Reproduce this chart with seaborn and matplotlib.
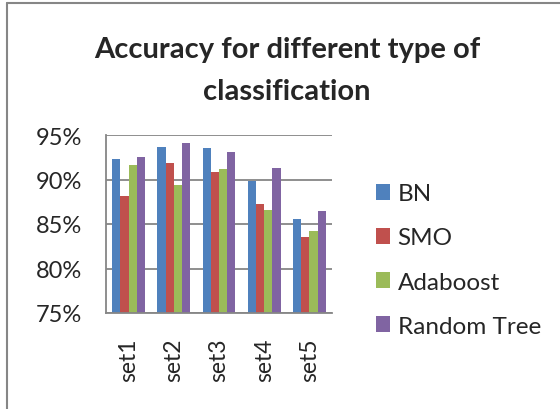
import matplotlib
matplotlib.use("Agg")
import matplotlib.pyplot as plt
import seaborn as sns
import pandas as pd
from matplotlib.lines import Line2D
from matplotlib.ticker import FuncFormatter

sets = ["set1", "set2", "set3", "set4", "set5"]
bn = [92.3, 93.65, 93.5, 89.8, 85.6]
smo = [88.1, 91.8, 90.8, 87.2, 83.5]
adaboost = [91.6, 89.4, 91.2, 86.6, 84.2]
random_tree = [92.5, 94.1, 93.1, 91.3, 86.5]
methods = ["BN", "SMO", "Adaboost", "Random Tree"]
colors = ["#4F81BD", "#C0504D", "#9BBB59", "#8064A2"]

rows = []
for m, vals in zip(methods, [bn, smo, adaboost, random_tree]):
    for s, v in zip(sets, vals):
        rows.append({"set": s, "method": m, "value": v})
df = pd.DataFrame(rows)

sns.set_style("white")
plt.rcParams['font.family'] = ['Lato', 'DejaVu Sans']

W, H = 560, 410
fig = plt.figure(figsize=(5.6, 4.1), dpi=100)
ax = fig.add_axes([106/W, 1-314/H, (332-106)/W, (314-136)/H])
sns.barplot(data=df, x="set", y="value", hue="method", palette=colors,
            width=0.73, ax=ax, saturation=1, legend=True, linewidth=0)
ax.set_ylim(75, 95)
ax.set_yticks([75, 80, 85, 90, 95])
ax.yaxis.set_major_formatter(FuncFormatter(lambda v, p: f"{v:.0f}%"))
ax.grid(axis="y", color="#868686", linewidth=1.3)
ax.set_axisbelow(True)
for s in ["top", "right"]:
    ax.spines[s].set_visible(False)
for s in ["left", "bottom"]:
    ax.spines[s].set_color("#868686")
    ax.spines[s].set_linewidth(1.3)
ax.set_xlabel("")
ax.set_ylabel("")
ax.tick_params(axis="y", labelsize=17, length=0, pad=17)
ax.tick_params(axis="x", labelsize=16.5, length=0, pad=18)
plt.setp(ax.get_xticklabels(), rotation=90)

handles, labels = ax.get_legend_handles_labels()
ax.legend(handles, labels, loc="center left", bbox_to_anchor=(366/W, 1-261/H),
          bbox_transform=fig.transFigure, frameon=False, fontsize=17.5,
          borderaxespad=0, borderpad=0.4,
          handlelength=0.6, handleheight=0.6, handletextpad=0.3, labelspacing=0.95)

fig.text(287/W, 1-58/H, "Accuracy for different type of",
         ha="center", va="baseline", fontsize=21, fontweight="bold")
fig.text(287/W, 1-100/H, "classification",
         ha="center", va="baseline", fontsize=21, fontweight="bold")

fig.add_artist(Line2D([7/W, 1], [1-4/H, 1-4/H], color="#868686", lw=1.5, transform=fig.transFigure))
fig.add_artist(Line2D([7/W, 7/W], [0, 1-4/H], color="#868686", lw=1.5, transform=fig.transFigure))

fig.savefig("out.png", dpi=100)
